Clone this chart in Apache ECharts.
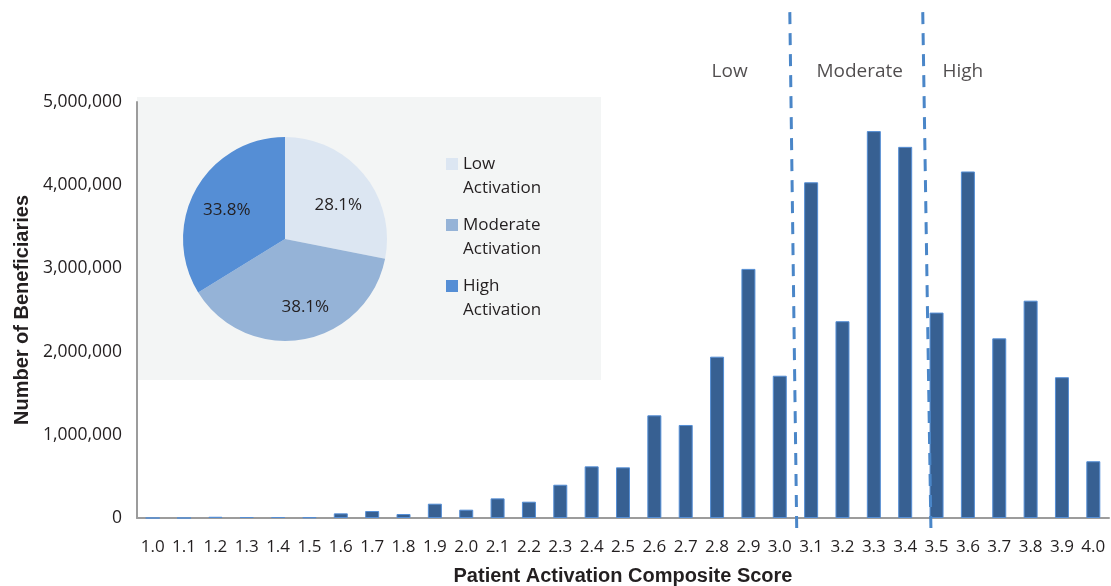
<!DOCTYPE html>
<html>
<head>
<meta charset="utf-8">
<script src="https://cdn.jsdelivr.net/npm/echarts@6/dist/echarts.min.js"></script>
<style>
html,body{margin:0;padding:0;background:#fff;}
#chart{width:1111px;height:586px;}
</style>
</head>
<body>
<div id="chart"></div>
<script>
// Histogram categories and values
const scores = ['1.0','1.1','1.2','1.3','1.4','1.5','1.6','1.7','1.8','1.9','2.0','2.1','2.2','2.3','2.4','2.5','2.6','2.7','2.8','2.9','3.0','3.1','3.2','3.3','3.4','3.5','3.6','3.7','3.8','3.9','4.0'];
const beneficiaries = [0, 0, 15000, 12000, 12000, 8000, 56000, 84000, 48000, 172000, 100000, 236000, 196000, 400000, 621000, 609000, 1234000, 1118000, 1939000, 2994000, 1710000, 4035000, 2365000, 4650000, 4461000, 2469000, 4165000, 2159000, 2612000, 1692000, 682000];
const yTicks = [0, 1000000, 2000000, 3000000, 4000000, 5000000];

// Pie inset
const pieNames = ['Low\nActivation', 'Moderate\nActivation', 'High\nActivation'];
const pieValues = [28.1, 38.1, 33.8];
const pieColors = ['#dce6f2', '#95b3d7', '#558ed5'];

// Cut-point divider lines (score at top, value at top / score at bottom, value at bottom)
const cut1 = [[3.032, 6080000], [3.054, -120000]];
const cut2 = [[3.456, 6080000], [3.482, -120000]];
const zoneLabels = ['Low', 'Moderate', 'High'];
const zoneScores = [2.84, 3.255, 3.584];
const zoneLevel = 5360000;

const chart = echarts.init(document.getElementById('chart'));
const FONT = 'Open Sans';
const dashStyle = {color: '#4a86c8', width: 3, type: [12, 9]};
const pieLabelOffsets = [[0, 10], [8, 0], [2, 5]];

chart.setOption({
  animation: false,
  graphic: [{
    type: 'rect', z: -10,
    shape: {x: 137, y: 97, width: 464, height: 283},
    style: {fill: '#f3f5f5'}
  }],
  grid: {left: 137, right: 2, top: 102, bottom: 68, containLabel: false, outerBoundsMode: 'none'},
  legend: {
    data: pieNames,
    orient: 'vertical',
    left: 446, top: 128,
    padding: 0,
    itemGap: -11,
    itemWidth: 12, itemHeight: 12,
    icon: 'rect',
    selectedMode: false,
    formatter: name => ' \n' + name,
    textStyle: {fontFamily: FONT, fontSize: 17, color: '#231f20', lineHeight: 24}
  },
  xAxis: [{
    type: 'category',
    data: scores,
    name: 'Patient Activation Composite Score',
    nameLocation: 'middle',
    nameGap: 48,
    nameTextStyle: {fontFamily: 'Liberation Sans', fontWeight: 'bold', fontSize: 20, color: '#231f20'},
    axisLine: {lineStyle: {color: '#9c9c9c', width: 2}},
    axisTick: {show: false},
    axisLabel: {fontFamily: FONT, fontSize: 17, color: '#231f20', margin: 21, interval: 0}
  }, {
    type: 'value', min: 0.95, max: 4.05, show: false
  }],
  yAxis: {
    type: 'value', min: 0, max: 5000000, interval: 1000000,
    name: 'Number of Beneficiaries',
    nameLocation: 'middle',
    nameGap: 105,
    nameTextStyle: {fontFamily: 'Liberation Sans', fontWeight: 'bold', fontSize: 20, color: '#231f20'},
    axisLine: {show: true, lineStyle: {color: '#9c9c9c', width: 2}},
    axisTick: {show: false},
    splitLine: {show: false},
    axisLabel: {
      fontFamily: FONT, fontSize: 17.5, color: '#231f20', margin: 15,
      formatter: v => yTicks.includes(v) ? v.toLocaleString('en-US') : ''
    }
  },
  series: [{
    type: 'bar',
    data: beneficiaries,
    barWidth: 14,
    itemStyle: {color: '#376092', borderColor: '#558ed5', borderWidth: 1},
    z: 3
  }, {
    type: 'line', xAxisIndex: 1, data: cut1, symbol: 'none', clip: false,
    lineStyle: dashStyle, z: 4, silent: true
  }, {
    type: 'line', xAxisIndex: 1, data: cut2, symbol: 'none', clip: false,
    lineStyle: dashStyle, z: 4, silent: true
  }, {
    type: 'scatter', xAxisIndex: 1, symbolSize: 0, clip: false, silent: true,
    data: zoneScores.map((s, i) => ({value: [s, zoneLevel], name: zoneLabels[i]})),
    label: {show: true, position: 'inside', formatter: p => p.name, fontFamily: FONT, fontSize: 19, color: '#231f20'}
  }, {
    type: 'pie',
    center: [285, 239], radius: [0, 102],
    startAngle: 90, clockwise: true,
    silent: true,
    data: pieNames.map((n, i) => ({name: n, value: pieValues[i], itemStyle: {color: pieColors[i]}})),
    label: {show: false}, labelLine: {show: false}
  }, {
    type: 'pie',
    center: [285, 239], radius: [30, 102],
    startAngle: 90, clockwise: true,
    silent: true, legendHoverLink: false,
    data: pieNames.map((n, i) => ({name: n + ' ', value: pieValues[i], itemStyle: {color: 'rgba(0,0,0,0)'}, label: {offset: pieLabelOffsets[i]}})),
    label: {show: true, position: 'inside', formatter: p => p.value.toFixed(1) + '%', fontFamily: FONT, fontSize: 17, color: '#231f20'},
    labelLine: {show: false}
  }]
});
</script>
</body>
</html>
